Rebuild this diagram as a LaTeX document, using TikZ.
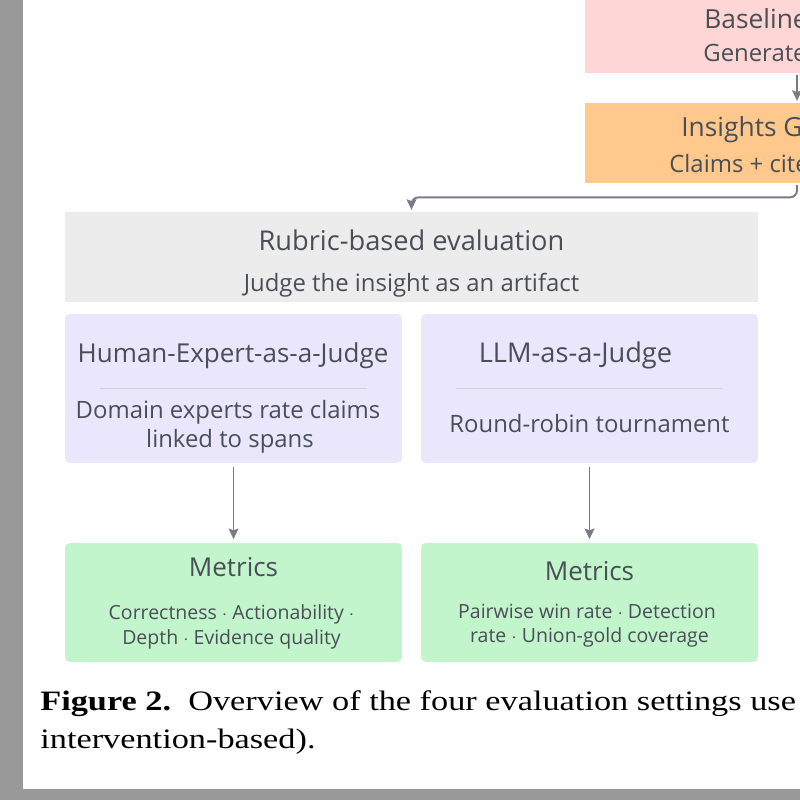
\documentclass[tikz,border=0pt]{standalone}
\usepackage{fontspec}
\setmainfont{Open Sans}
\newfontfamily\capfont[FakeStretch=1.22]{Liberation Serif}
\usetikzlibrary{positioning, arrows.meta}

\definecolor{pagegray}{RGB}{153,153,153}
\definecolor{inkgray}{RGB}{74,78,86}
\definecolor{arrowgray}{RGB}{122,122,134}
\definecolor{rulegray}{RGB}{210,210,218}
\definecolor{basepink}{RGB}{255,214,214}
\definecolor{insorange}{RGB}{255,200,140}
\definecolor{rubricgray}{RGB}{236,236,236}
\definecolor{judgepurple}{RGB}{234,230,252}
\definecolor{metricgreen}{RGB}{194,245,204}

\tikzset{
  flatbox/.style={rectangle, inner sep=0pt, minimum height=1.6cm},
  cardbox/.style={rectangle, rounded corners=2.8pt, inner sep=0pt, minimum width=6.74cm},
  flow/.style={->, draw=arrowgray, line width=1.1pt, shorten >=1pt, shorten <=1pt},
  sepline/.style={draw=rulegray, line width=0.9pt},
  txt/.style={anchor=base, text=inkgray, inner sep=0pt},
  title/.style={txt, font=\fontsize{15.5}{18}\selectfont},
  judge/.style={txt, font=\fontsize{14.8}{18}\selectfont},
  sub/.style={txt, font=\fontsize{13.6}{17}\selectfont},
  small/.style={txt, font=\fontsize{11.1}{14}\selectfont},
  captxt/.style={anchor=base west, inner sep=0pt, font=\capfont\fontsize{16}{21}\selectfont},
}

\begin{document}
\begin{tikzpicture}[x=0.02cm, y=-0.02cm, >={Stealth[length=6pt, width=5.5pt, inset=1pt]}]
    % Trang giay: le xam ben trai va ben duoi
    \useasboundingbox (0,0) rectangle (800,800);
    \fill[pagegray] (0,0) rectangle (800,800);
    \fill[white] (23,0) rectangle (800,789);
    \clip (23,0) rectangle (800,789);

    % Hai hop o goc tren ben phai (bi cat boi mep trang)
    \node[flatbox, fill=basepink, minimum width=8.48cm] (baseline) at (797,33) {};
    \node[flatbox, fill=insorange, minimum width=8.48cm] (insights) at (797,143) {};
    \node[title, anchor=base west, font=\fontsize{15}{18}\selectfont] (baseT) at (704,29) {Baseline};
    \node[sub, anchor=base west] (baseS) at (703,62) {Generate};
    \node[title, anchor=base west, font=\fontsize{15}{18}\selectfont] (insT) at (681,137) {Insights G};
    \node[sub, anchor=base west] (insS) at (669,173) {Claims + cite};

    % Hop danh gia theo rubric
    \node[flatbox, fill=rubricgray, minimum width=13.86cm, minimum height=1.8cm] (rubric) at (411.5,257) {};
    \node[title] (rubricT) at (411.5,251) {Rubric-based evaluation};
    \node[sub] (rubricS) at (411.5,291) {Judge the insight as an artifact};

    % Hai cach cham diem
    \node[cardbox, fill=judgepurple, minimum height=2.98cm] (human) at (233.5,388.5) {};
    \node[cardbox, fill=judgepurple, minimum height=2.98cm] (llm) at (589.5,388.5) {};
    \draw[sepline] ([xshift=0.7cm]human.west) -- ([xshift=-0.7cm]human.east);
    \draw[sepline] ([xshift=0.7cm]llm.west) -- ([xshift=-0.7cm]llm.east);
    \node[judge] (humanT) at (233,362) {Human-Expert-as-a-Judge};
    \node[sub] (humanS) at (228,418) {Domain experts rate claims};
    \node[sub] (humanS2) at (230,447) {linked to spans};
    \node[judge, font=\fontsize{15.5}{18}\selectfont] (llmT) at (575.5,362) {LLM-as-a-Judge};
    \node[sub] (llmS) at (589.5,432) {Round-robin tournament};

    % Cac chi so
    \node[cardbox, fill=metricgreen, minimum height=2.38cm] (metricsH) at (233.5,602.5) {};
    \node[cardbox, fill=metricgreen, minimum height=2.38cm] (metricsL) at (589.5,602.5) {};
    \node[judge] (mHT) at (233.5,576) {Metrics};
    \node[small] (mHS) at (231.5,619) {Correctness $\cdot$ Actionability $\cdot$};
    \node[small] (mHS2) at (231.5,644) {Depth $\cdot$ Evidence quality};
    \node[judge] (mLT) at (589.5,580) {Metrics};
    \node[small] (mLS) at (587,618) {Pairwise win rate $\cdot$ Detection};
    \node[small] (mLS2) at (589.5,642) {rate $\cdot$ Union-gold coverage};

    % Mui ten noi cac hop
    \draw[flow] (baseline.south) -- (insights.north);
    \draw[flow, rounded corners=4pt] (insights.south) -- ++(0,14) -| (rubric.north);
    \draw[flow, shorten >=2pt, shorten <=2pt] (human.south) -- (metricsH.north);
    \draw[flow, shorten >=2pt, shorten <=2pt] (llm.south) -- (metricsL.north);

    % Chu thich hinh
    \node[captxt] (capA) at (40,710) {\textbf{Figure 2.}\ \ Overview of the four evaluation settings use};
    \node[captxt] (capB) at (40,748) {intervention-based).};
\end{tikzpicture}
\end{document}
